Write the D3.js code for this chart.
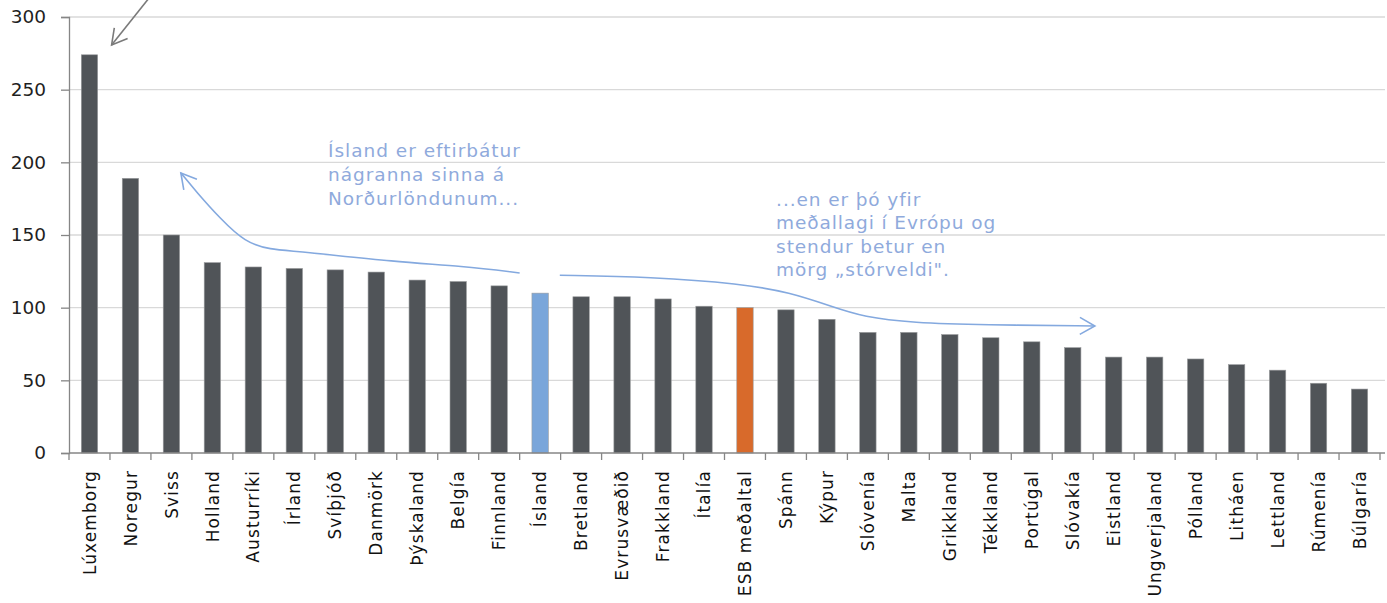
<!DOCTYPE html>
<html lang="is">
<head>
    <meta charset="UTF-8">
    <title>Samanburður</title>
    <script src="https://d3js.org/d3.v7.min.js"></script>
    <style>
        body {
            margin: 0;
            padding: 0;
            background-color: #ffffff;
            font-family: "DejaVu Sans", sans-serif;
        }
        svg {
            display: block;
        }
    </style>
</head>
<body>
    <svg></svg>

    <script>
        // data
        const countries = ["Lúxemborg", "Noregur", "Sviss", "Holland", "Austurríki", "Írland", "Svíþjóð",
            "Danmörk", "Þýskaland", "Belgía", "Finnland", "Ísland", "Bretland", "Evrusvæðið", "Frakkland",
            "Ítalía", "ESB meðaltal", "Spánn", "Kýpur", "Slóvenía", "Malta", "Grikkland", "Tékkland",
            "Portúgal", "Slóvakía", "Eistland", "Ungverjaland", "Pólland", "Litháen", "Lettland", "Rúmenía", "Búlgaría"];
        const values = [274, 189, 150, 131, 128, 127, 126, 124.5, 119, 118, 115, 110, 107.5, 107.5, 106,
            101, 100, 98.5, 92, 83, 83, 81.5, 79.3, 76.5, 72.5, 66, 66, 64.7, 60.8, 57, 48, 44];
        const yTicks = [0, 50, 100, 150, 200, 250, 300];

        // annotation texts and guide points (category position, value)
        const noteLeft = ["Ísland er eftirbátur", "nágranna sinna á", "Norðurlöndunum..."];
        const noteRight = ["...en er þó yfir", "meðallagi í Evrópu og", "stendur betur en", "mörg „stórveldi\"."];
        const curveLeft = [[2.73, 192.7], [3.1, 180], [3.7, 161], [4.3, 145], [4.9, 140], [5.6, 138.8],
            [8.0, 131.4], [9.6, 128.6], [11.0, 123.9]];
        const curveRight = [[11.98, 122.3], [14.2, 121.2], [16.4, 116.5], [17.6, 110.5], [18.6, 101],
            [19.4, 93.5], [20.6, 89.6], [22.3, 88.1], [25.04, 87.4]];
        const arrowTop = [[1.98, 314], [1.04, 280.8]];

        const width = 1387;
        const height = 603;
        const margin = { top: 17, right: 7, bottom: 150, left: 69 };
        const innerW = width - margin.left - margin.right;
        const innerH = height - margin.top - margin.bottom;

        const svg = d3.select("svg")
            .attr("width", width)
            .attr("height", height);

        const defs = svg.append("defs");
        function addMarker(id, color) {
            defs.append("marker")
                .attr("id", id)
                .attr("viewBox", "0 -10 20 20")
                .attr("refX", 18)
                .attr("refY", 0)
                .attr("markerWidth", 20)
                .attr("markerHeight", 20)
                .attr("markerUnits", "userSpaceOnUse")
                .attr("orient", "auto-start-reverse")
                .append("path")
                .attr("d", "M3,-8.5L18,0L3,8.5")
                .attr("fill", "none")
                .attr("stroke", color)
                .attr("stroke-width", 1.6);
        }
        addMarker("blueHead", "#84a9df");
        addMarker("grayHead", "#7a7a7a");

        const g = svg.append("g")
            .attr("transform", `translate(${margin.left},${margin.top})`);

        const x = d3.scaleBand()
            .domain(countries)
            .range([0, innerW])
            .paddingInner(0.6)
            .paddingOuter(0.3);
        const step = x.step();

        const y = d3.scaleLinear()
            .domain([0, 300])
            .range([innerH, 0]);

        // position in "category units" from left edge of plot
        const px = c => c * step;

        // gridlines
        g.append("g")
            .selectAll("line")
            .data(yTicks.filter(d => d > 0))
            .join("line")
            .attr("x1", 0)
            .attr("x2", innerW + 5)
            .attr("y1", d => y(d))
            .attr("y2", d => y(d))
            .attr("stroke", "#d9d9d9")
            .attr("stroke-width", 1.3);

        // y axis
        const yAxis = g.append("g")
            .call(d3.axisLeft(y).tickValues(yTicks).tickSize(8).tickPadding(15));
        yAxis.select(".domain").attr("stroke", "#868686").attr("stroke-width", 1.3);
        yAxis.selectAll(".tick line").attr("stroke", "#868686").attr("stroke-width", 1.3);
        yAxis.selectAll(".tick text")
            .style("font-size", "18.5px")
            .style("font-family", "DejaVu Sans, sans-serif")
            .attr("fill", "#1f1f1f");

        // bars
        g.selectAll("rect.bar")
            .data(countries)
            .join("rect")
            .attr("class", "bar")
            .attr("x", d => x(d))
            .attr("y", (d, i) => y(values[i]))
            .attr("width", x.bandwidth())
            .attr("height", (d, i) => innerH - y(values[i]))
            .attr("fill", d => d === "Ísland" ? "#7aa6da" : d === "ESB meðaltal" ? "#d86a2b" : "#505458")
            .attr("stroke", "#9a9c9e")
            .attr("stroke-width", 0.6);

        // x axis line and boundary ticks
        g.append("line")
            .attr("x1", 0)
            .attr("x2", innerW + 5)
            .attr("y1", innerH)
            .attr("y2", innerH)
            .attr("stroke", "#868686")
            .attr("stroke-width", 1.3);
        g.append("g")
            .selectAll("line")
            .data(d3.range(countries.length + 1))
            .join("line")
            .attr("x1", d => d * step)
            .attr("x2", d => d * step)
            .attr("y1", innerH)
            .attr("y2", innerH + 7)
            .attr("stroke", "#868686")
            .attr("stroke-width", 1.3);

        // category labels
        const xAxis = g.append("g")
            .attr("transform", `translate(0,${innerH})`)
            .call(d3.axisBottom(x).tickSize(0));
        xAxis.select(".domain").remove();
        xAxis.selectAll(".tick text")
            .attr("transform", "rotate(-90)")
            .attr("text-anchor", "end")
            .attr("x", -17)
            .attr("y", 0)
            .attr("dy", "0.36em")
            .style("font-size", "17px")
            .style("letter-spacing", "1.1px")
            .style("font-family", "DejaVu Sans, sans-serif")
            .attr("fill", "#111111");

        // annotations
        const line = d3.line()
            .x(d => px(d[0]))
            .y(d => y(d[1]))
            .curve(d3.curveBasis);

        g.append("path")
            .attr("d", line(curveLeft))
            .attr("fill", "none")
            .attr("stroke", "#84a9df")
            .attr("stroke-width", 1.6)
            .attr("marker-start", "url(#blueHead)");

        g.append("path")
            .attr("d", line(curveRight))
            .attr("fill", "none")
            .attr("stroke", "#84a9df")
            .attr("stroke-width", 1.6)
            .attr("marker-end", "url(#blueHead)");

        g.append("path")
            .attr("d", d3.line().x(d => px(d[0])).y(d => y(d[1]))(arrowTop))
            .attr("fill", "none")
            .attr("stroke", "#7a7a7a")
            .attr("stroke-width", 1.6)
            .attr("marker-end", "url(#grayHead)");

        g.append("text")
            .attr("x", px(6.32))
            .attr("y", y(203.7))
            .attr("fill", "#8faadc")
            .style("font-size", "18.5px")
            .style("letter-spacing", "1px")
            .selectAll("tspan")
            .data(noteLeft)
            .join("tspan")
            .attr("x", px(6.32))
            .attr("dy", (d, i) => i === 0 ? 0 : 24)
            .text(d => d);

        g.append("text")
            .attr("x", px(17.26))
            .attr("y", y(170))
            .attr("fill", "#8faadc")
            .style("font-size", "18.5px")
            .style("letter-spacing", "0.9px")
            .selectAll("tspan")
            .data(noteRight)
            .join("tspan")
            .attr("x", px(17.26))
            .attr("dy", (d, i) => i === 0 ? 0 : 23.5)
            .text(d => d);
    </script>
</body>
</html>
